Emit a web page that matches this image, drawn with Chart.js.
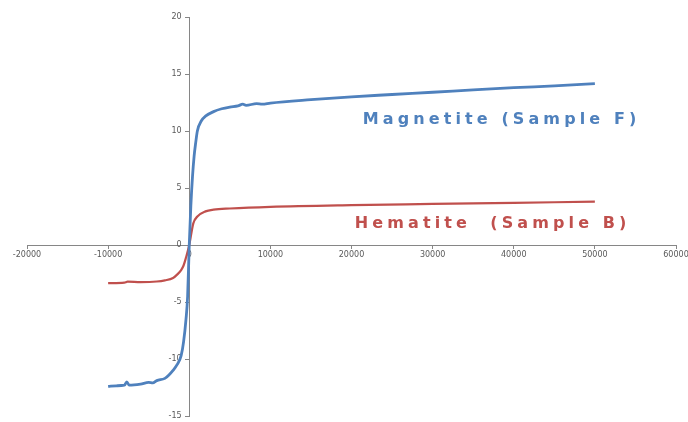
<!DOCTYPE html>
<html>
<head>
<meta charset="utf-8">
<script src="https://cdn.jsdelivr.net/npm/chart.js@4.4.1/dist/chart.umd.min.js"></script>
<style>
  html, body { margin: 0; padding: 0; background: #fff; }
  #wrap { position: relative; width: 688px; height: 422px; }
</style>
</head>
<body>
<div id="wrap"><canvas id="chart"></canvas></div>
<script>
/* ================= DATA ================= */
const magField = [-10000, -9000, -8000, -7700, -7400, -6000, -5000, -4500, -4000, -3000, -2500, -2000, -1500, -1000, -700, -400, -200, 0,
  200, 400, 600, 800, 1000, 1500, 2000, 3000, 4000, 5000, 6000, 6600, 7000, 8300, 9000, 10000,
  15000, 20000, 25000, 30000, 35000, 40000, 45000, 50000];
const magMoment = [-12.4, -12.35, -12.3, -12.0, -12.3, -12.2, -12.05, -12.1, -11.9, -11.7, -11.4, -11.0, -10.5, -9.7, -8.5, -6.5, -4.5, 0,
  3.5, 6.0, 7.8, 9.0, 10.0, 10.9, 11.3, 11.7, 11.95, 12.1, 12.2, 12.35, 12.25, 12.4, 12.35, 12.45,
  12.75, 13.0, 13.2, 13.4, 13.6, 13.8, 13.95, 14.15];

const hemField = [-10000, -8000, -7600, -6000, -4000, -3000, -2000, -1500, -1000, -700, -400, 0,
  500, 1000, 2000, 3000, 5000, 10000, 20000, 30000, 40000, 50000];
const hemMoment = [-3.35, -3.3, -3.22, -3.25, -3.2, -3.1, -2.9, -2.6, -2.2, -1.8, -1.1, 0,
  1.9, 2.5, 2.95, 3.1, 3.2, 3.35, 3.5, 3.6, 3.7, 3.8];

const xTicks = [-20000, -10000, 0, 10000, 20000, 30000, 40000, 50000, 60000];
const yTicks = [-15, -10, -5, 0, 5, 10, 15, 20];

const seriesNames = ["Magnetite (Sample F)", "Hematite  (Sample B)"];
const seriesColors = ["#4F81BD", "#C0504D"];

const toPoints = (xs, ys) => xs.map((x, i) => ({ x: x, y: ys[i] }));

/* ================= SERIES LABELS ================= */
const seriesLabels = {
  id: "seriesLabels",
  afterDatasetsDraw(chart, args, opts) {
    const ctx = chart.ctx;
    const sx = chart.scales.x, sy = chart.scales.y;
    ctx.save();
    ctx.font = "bold 16px 'DejaVu Sans'";
    ctx.letterSpacing = "4.1px";
    ctx.textAlign = "center";
    ctx.textBaseline = "middle";
    opts.items.forEach(item => {
      ctx.fillStyle = item.color;
      ctx.fillText(item.text, sx.getPixelForValue(item.x), sy.getPixelForValue(item.y));
    });
    ctx.restore();
  }
};

/* ================= CHART ================= */
const axisColor = "#868686";
const tickFont = { family: "'DejaVu Sans'", size: 8 };

// labels may hang over the edge, like in the original
const noScalePadding = s => {
  s.paddingLeft = 0;
  s.paddingRight = 0;
  s.paddingTop = 0;
  s.paddingBottom = 0;
};

new Chart(document.getElementById("chart").getContext("2d"), {
  type: "scatter",
  data: {
    datasets: [
      {
        label: seriesNames[0],
        data: toPoints(magField, magMoment),
        borderColor: seriesColors[0],
        backgroundColor: seriesColors[0],
        borderWidth: 2.8,
        showLine: true,
        pointRadius: 0,
        cubicInterpolationMode: "monotone"
      },
      {
        label: seriesNames[1],
        data: toPoints(hemField, hemMoment),
        borderColor: seriesColors[1],
        backgroundColor: seriesColors[1],
        borderWidth: 2.2,
        showLine: true,
        pointRadius: 0,
        cubicInterpolationMode: "monotone"
      }
    ]
  },
  options: {
    responsive: true,
    maintainAspectRatio: false,
    animation: false,
    layout: { padding: { left: 27, right: 12, top: 17, bottom: 6 } },
    plugins: {
      legend: { display: false },
      tooltip: { enabled: false },
      seriesLabels: {
        items: [
          { text: seriesNames[0], color: seriesColors[0], x: 38500, y: 11.0 },
          { text: seriesNames[1], color: seriesColors[1], x: 37400, y: 1.85 }
        ]
      }
    },
    scales: {
      x: {
        type: "linear",
        position: { y: 0 },
        min: xTicks[0],
        max: xTicks[xTicks.length - 1],
        afterBuildTicks: axis => { axis.ticks = xTicks.map(v => ({ value: v })); },
        afterFit: noScalePadding,
        grid: { display: true, drawOnChartArea: false, drawTicks: true, tickLength: 3, color: axisColor },
        border: { display: true, color: axisColor, width: 1 },
        ticks: { font: tickFont, color: "#595959", padding: 2, maxRotation: 0, callback: v => String(v) }
      },
      y: {
        type: "linear",
        position: { x: 0 },
        min: yTicks[0],
        max: yTicks[yTicks.length - 1],
        afterBuildTicks: axis => { axis.ticks = yTicks.map(v => ({ value: v })); },
        afterFit: noScalePadding,
        grid: { display: true, drawOnChartArea: false, drawTicks: true, tickLength: 4, color: axisColor },
        border: { display: true, color: axisColor, width: 1 },
        // padding is ignored for an axis placed at x = 0, so trailing spaces push the labels left
        ticks: { font: tickFont, color: "#595959", callback: v => String(v) + "   " }
      }
    }
  },
  plugins: [seriesLabels]
});
</script>
</body>
</html>
